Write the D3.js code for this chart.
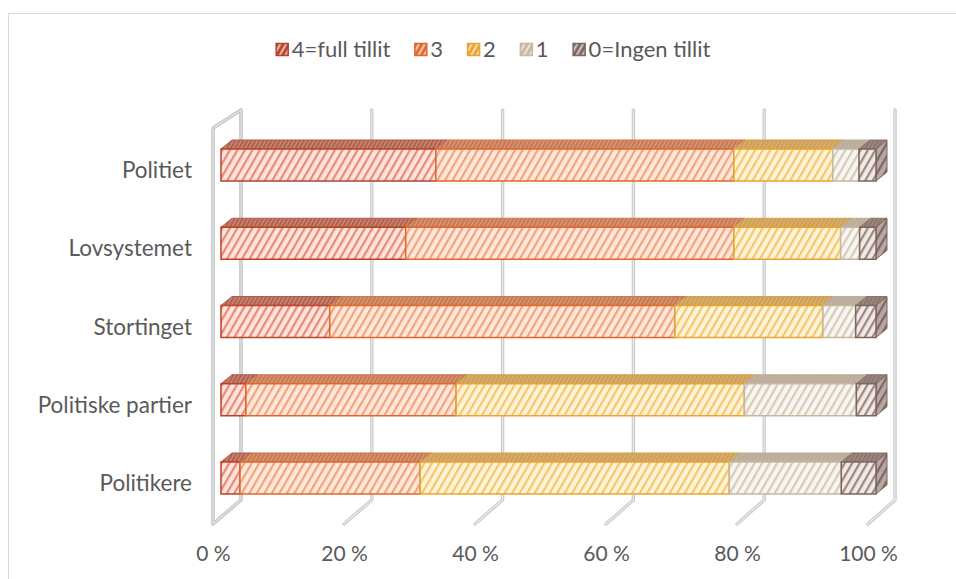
<!DOCTYPE html>
<html>
<head>
<meta charset="utf-8">
<script src="https://cdn.jsdelivr.net/npm/d3@7"></script>
<style>
  body { margin: 0; background: #fff; }
  text { font-family: Lato, "Open Sans", sans-serif; fill: #595959; }
</style>
</head>
<body>
<script>
// data (percent of respondents)
const categories = ["Politiet", "Lovsystemet", "Stortinget", "Politiske partier", "Politikere"];
const seriesNames = ["4=full tillit", "3", "2", "1", "0=Ingen tillit"];
const full  = [32.8, 28.2, 16.6, 3.8, 2.9];
const three = [45.5, 50.1, 52.7, 32.1, 27.5];
const two   = [15.1, 16.3, 22.6, 44.0, 47.2];
const one   = [4.0, 2.9, 5.0, 17.1, 17.1];
const none  = [2.6, 2.5, 3.1, 3.0, 5.3];
const xTicks = [0, 20, 40, 60, 80, 100];

const strokes = ["#b8432b", "#e0682a", "#e9a332", "#c6b89d", "#7d665e"];
const stripes = ["#e88a74", "#f2a37c", "#f4c76a", "#d4cbba", "#9a8780"];
const bgs     = ["#fde4dc", "#fee8dc", "#fff3da", "#f9f6f1", "#f1e9e7"];

const width = 956, height = 579;

const svg = d3.select("body").append("svg")
  .attr("width", width)
  .attr("height", height);

// chart border (only top/left edges fall inside the picture)
svg.append("rect")
  .attr("x", 8.5).attr("y", 13.5)
  .attr("width", 1000).attr("height", 1000)
  .attr("fill", "none").attr("stroke", "#d9d9d9");

const defs = svg.append("defs");
function makePattern(id, bg, fg, w) {
  let p = defs.append("pattern")
    .attr("id", id)
    .attr("patternUnits", "userSpaceOnUse")
    .attr("width", w || 6.5).attr("height", 10)
    .attr("patternTransform", "rotate(30)");
  p.append("rect").attr("width", w || 6.5).attr("height", 10).attr("fill", bg);
  p.append("rect").attr("width", 2.2).attr("height", 10).attr("fill", fg);
}
const topTint = "#a3958d";
seriesNames.forEach(function(s, i) {
  makePattern("front" + i, bgs[i], stripes[i]);
  makePattern("top" + i, d3.interpolate(stripes[i], topTint)(0.4), d3.interpolate(strokes[i], topTint)(0.35), 3.5);
  makePattern("side" + i, d3.interpolate(bgs[i], strokes[i])(0.5), strokes[i]);
  makePattern("leg" + i, strokes[i], d3.interpolate(strokes[i], "#ffffff")(0.6), 5);
});

// scales
let x = d3.scaleLinear().domain([0, 100]).range([221, 876]);       // bar front face
let xFloor = d3.scaleLinear().domain([0, 100]).range([213, 868]);  // floor front edge
let xBack = d3.scaleLinear().domain([0, 100]).range([241, 895]);   // back wall
let y = d3.scaleBand().domain(categories)
  .range([125.9, 517.1])
  .paddingInner(0.591).paddingOuter(0.2955);

const gridTop = 110, floorBack = 500, floorFront = 524;
const bdx = 11, bdy = -9;  // bar depth offset

// gridlines (double look: gray with light core)
let grid = svg.append("g");
xTicks.slice(1).forEach(function(t) {
  let d = "M" + xBack(t) + "," + gridTop + "L" + xBack(t) + "," + floorBack + "L" + xFloor(t) + "," + floorFront;
  grid.append("path").attr("d", d).attr("fill", "none")
    .attr("stroke", "#c9c9c9").attr("stroke-width", 3.4)
    .attr("stroke-linejoin", "round").attr("stroke-linecap", "round");
  grid.append("path").attr("d", d).attr("fill", "none")
    .attr("stroke", "#ececec").attr("stroke-width", 1.2)
    .attr("stroke-linejoin", "round").attr("stroke-linecap", "round");
});

// side wall at 0 %
let wall = "M" + xFloor(0) + "," + floorFront + "L" + xFloor(0) + "," + 128 +
  "L" + xBack(0) + "," + gridTop + "L" + xBack(0) + "," + floorBack + "Z";
svg.append("path").attr("d", wall).attr("fill", "none")
  .attr("stroke", "#c4c4c4").attr("stroke-width", 3.6).attr("stroke-linejoin", "round");
svg.append("path").attr("d", wall).attr("fill", "none")
  .attr("stroke", "#e4e4e4").attr("stroke-width", 1.2).attr("stroke-linejoin", "round");

// stacked 3d bars
const seriesValues = [full, three, two, one, none];
let rows = categories.map(function(c, ci) {
  let acc = 0;
  return seriesValues.map(function(vals, si) {
    let seg = { cat: c, s: si, x0: acc, x1: acc + vals[ci] };
    acc += vals[ci];
    return seg;
  });
});

let bars = svg.append("g");
rows.forEach(function(segs) {
  let g = bars.append("g");
  segs.forEach(function(d) {
    let x0 = x(d.x0), x1 = x(d.x1), yt = y(d.cat), yb = yt + y.bandwidth();
    // top face
    g.append("path")
      .attr("d", "M" + x0 + "," + yt + "L" + (x0 + bdx) + "," + (yt + bdy) +
        "L" + (x1 + bdx) + "," + (yt + bdy) + "L" + x1 + "," + yt + "Z")
      .attr("fill", "url(#top" + d.s + ")")
      .attr("stroke", d3.interpolate(strokes[d.s], topTint)(0.3)).attr("stroke-width", 1);
    // right face
    g.append("path")
      .attr("d", "M" + x1 + "," + yt + "L" + (x1 + bdx) + "," + (yt + bdy) +
        "L" + (x1 + bdx) + "," + (yb + bdy) + "L" + x1 + "," + yb + "Z")
      .attr("fill", "url(#side" + d.s + ")")
      .attr("stroke", strokes[d.s]).attr("stroke-width", 1);
  });
  segs.forEach(function(d) {
    g.append("rect")
      .attr("x", x(d.x0)).attr("y", y(d.cat))
      .attr("width", x(d.x1) - x(d.x0)).attr("height", y.bandwidth())
      .attr("fill", "url(#front" + d.s + ")")
      .attr("stroke", strokes[d.s]).attr("stroke-width", 1.5);
  });
});

// category labels
svg.append("g").selectAll("text")
  .data(categories)
  .join("text")
  .attr("x", 192)
  .attr("y", function(d) { return y(d) + y.bandwidth() / 2 + 13; })
  .attr("text-anchor", "end")
  .style("font-size", "22.5px")
  .text(function(d) { return d; });

// x axis labels
let xAxis = d3.axisBottom(xFloor)
  .tickValues(xTicks)
  .tickSize(0)
  .tickFormat(function(d) { return d + " %"; });
let ax = svg.append("g")
  .attr("transform", "translate(0,542)")
  .call(xAxis);
ax.select(".domain").remove();
ax.selectAll("text")
  .attr("dy", 0).attr("y", 19)
  .style("font-size", "21px")
  .style("font-family", "Lato, 'Open Sans', sans-serif")
  .attr("fill", "#595959");

// legend
let legend = svg.append("g");
let lx = 0;
seriesNames.forEach(function(s, i) {
  let it = legend.append("g");
  it.append("rect")
    .attr("x", 0.5).attr("y", 43.5).attr("width", 12).attr("height", 12)
    .attr("fill", "url(#leg" + i + ")")
    .attr("stroke", strokes[i]).attr("stroke-width", 1.5);
  let t = it.append("text")
    .attr("x", 16).attr("y", 57)
    .style("font-size", "22px")
    .text(s);
  let w = 16 + t.node().getComputedTextLength();
  it.attr("transform", "translate(" + lx + ",0)");
  lx += w + 24;
});
let legendWidth = lx - 24;
legend.attr("transform", "translate(" + (493 - legendWidth / 2) + ",0)");
</script>
</body>
</html>
